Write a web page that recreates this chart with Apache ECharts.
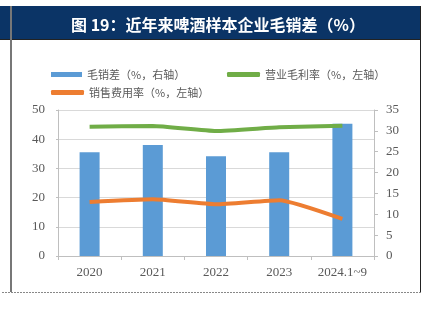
<!DOCTYPE html>
<html><head><meta charset="utf-8">
<script src="https://cdn.jsdelivr.net/npm/echarts@6/dist/echarts.min.js"></script>
<style>html,body{margin:0;padding:0;background:#fff}#c{width:428px;height:322px}</style>
</head><body><div id="c"></div>
<script>
const categories = ['2020','2021','2022','2023','2024.1~9'];
const grossSalesSpread = [24.9, 26.6, 23.9, 24.9, 31.7];   // 毛销差 right axis
const grossMargin = [44.3, 44.5, 42.8, 44.1, 44.6];         // 营业毛利率 left axis
const sellingExpense = [18.5, 19.4, 17.7, 19.1, 12.7];      // 销售费用率 left axis
const leftTicks = [0, 10, 20, 30, 40, 50];
const rightTicks = [0, 5, 10, 15, 20, 25, 30, 35];

const chart = echarts.init(document.getElementById('c'), null, {renderer: 'canvas'});
const serif = '"Liberation Serif", "Times New Roman", serif';
const cjk = '"Noto Sans CJK SC", sans-serif';
const legendText = {color: '#595959', fontSize: 11, fontFamily: cjk};
chart.setOption({
  animation: false,
  backgroundColor: '#fff',
  title: {
    text: '图 19：近年来啤酒样本企业毛销差（%）',
    left: 213, top: 12, textAlign: 'center',
    textStyle: {color: '#fff', fontSize: 16, fontWeight: 'bold', fontFamily: cjk}
  },
  graphic: [
    {type: 'rect', z: -1, shape: {x: 0, y: 6, width: 420, height: 33}, style: {fill: '#0b3466'}},
    {type: 'line', shape: {x1: 0, y1: 39.5, x2: 420, y2: 39.5}, style: {stroke: '#222', lineWidth: 1}},
    {type: 'line', shape: {x1: 11, y1: 6, x2: 11, y2: 292}, style: {stroke: '#777', lineWidth: 2}},
    {type: 'line', shape: {x1: 420.5, y1: 6, x2: 420.5, y2: 292}, style: {stroke: '#222', lineWidth: 1}},
    {type: 'line', shape: {x1: 2, y1: 292.5, x2: 421, y2: 292.5}, style: {stroke: '#888', lineWidth: 1, lineDash: [2, 1]}}
  ],
  legend: [
    {left: 46, top: 64, itemWidth: 31, itemHeight: 5, itemGap: 4, textStyle: legendText,
     data: [{name: '毛销差（%，右轴）', icon: 'rect'}]},
    {left: 222, top: 64, itemWidth: 33, itemHeight: 5, textStyle: legendText,
     data: [{name: '营业毛利率（%，左轴）', icon: 'roundRect'}]},
    {left: 46, top: 82, itemWidth: 33, itemHeight: 5, textStyle: legendText,
     data: [{name: '销售费用率（%，左轴）', icon: 'roundRect'}]}
  ],
  grid: {left: 58, right: 54, top: 110, bottom: 66},
  xAxis: {
    type: 'category', data: categories,
    axisLine: {lineStyle: {color: '#bfbfbf'}},
    axisTick: {show: true, length: 4, lineStyle: {color: '#bfbfbf'}},
    axisLabel: {color: '#595959', fontSize: 13, fontFamily: serif, margin: 10, interval: 0}
  },
  yAxis: [
    {type: 'value', min: leftTicks[0], max: leftTicks[leftTicks.length - 1], interval: 10,
     axisLine: {show: true, lineStyle: {color: '#bfbfbf'}},
     axisTick: {show: true, length: 2, lineStyle: {color: '#bfbfbf'}},
     splitLine: {lineStyle: {color: '#d9d9d9'}},
     axisLabel: {color: '#595959', fontSize: 13, fontFamily: serif, margin: 13}},
    {type: 'value', min: rightTicks[0], max: rightTicks[rightTicks.length - 1], interval: 5, position: 'right',
     axisLine: {show: true, lineStyle: {color: '#bfbfbf'}},
     axisTick: {show: true, length: 4, lineStyle: {color: '#bfbfbf'}},
     splitLine: {show: false},
     axisLabel: {color: '#595959', fontSize: 13, fontFamily: serif, margin: 12}}
  ],
  series: [
    {name: '毛销差（%，右轴）', type: 'bar', yAxisIndex: 1, data: grossSalesSpread, barWidth: 20,
     itemStyle: {color: '#5b9bd5'}, z: 1},
    {name: '营业毛利率（%，左轴）', type: 'line', yAxisIndex: 0, data: grossMargin, symbol: 'none',
     smooth: 0.15, lineStyle: {color: '#70ad47', width: 4}, itemStyle: {color: '#70ad47'}, z: 3},
    {name: '销售费用率（%，左轴）', type: 'line', yAxisIndex: 0, data: sellingExpense, symbol: 'none',
     smooth: 0.15, lineStyle: {color: '#ed7d31', width: 4}, itemStyle: {color: '#ed7d31'}, z: 3}
  ]
});
</script></body></html>
